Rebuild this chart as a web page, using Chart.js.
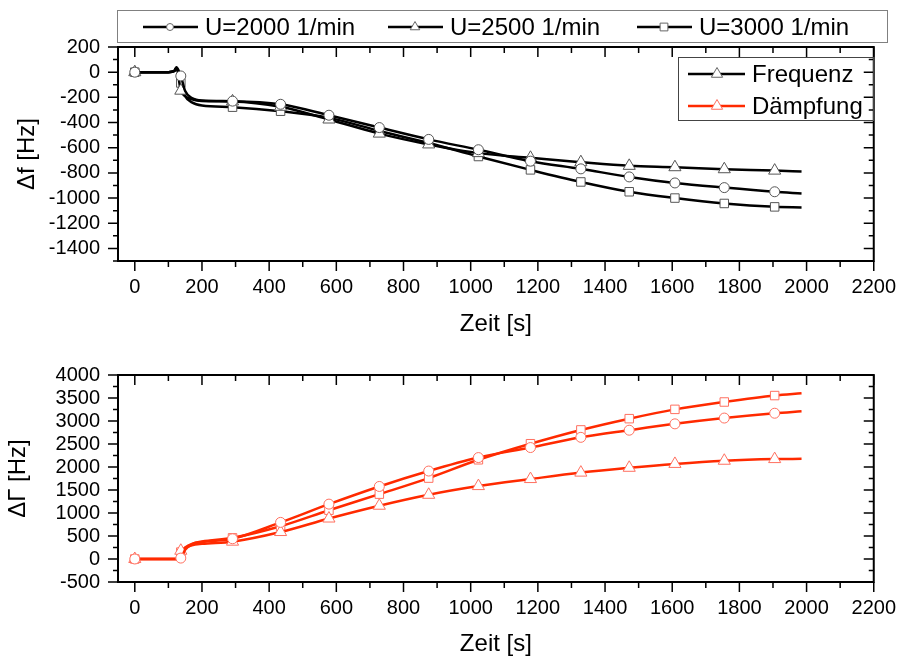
<!DOCTYPE html>
<html>
<head>
<meta charset="utf-8">
<script src="https://cdn.jsdelivr.net/npm/chart.js@4.4.0/dist/chart.umd.min.js"></script>
<style>
  body { margin: 0; background: #fff; }
  #wrap { position: relative; width: 910px; height: 662px; }
  #topBox { position: absolute; left: 0; top: 0; width: 910px; height: 345px; }
  #botBox { position: absolute; left: 0; top: 345px; width: 910px; height: 317px; }
</style>
</head>
<body>
<div id="wrap">
  <div id="topBox"><canvas id="freqChart"></canvas></div>
  <div id="botBox"><canvas id="dampChart"></canvas></div>
</div>
<script>
// time axis [s] and the times where symbols are drawn
const zeit = [0, 100, 118, 124, 137, 150, 170, 200, 291, 434, 578, 728, 875, 1023, 1178, 1328, 1472, 1608, 1755, 1905, 1985];
const markerZeit = [0, 137, 291, 434, 578, 728, 875, 1023, 1178, 1328, 1472, 1608, 1755, 1905];

// frequency shift [Hz]
const freq2000 = [0, 0, 10, 40, -30, -150, -205, -225, -230, -255, -342, -440, -534, -616, -707, -768, -832, -880, -917, -950, -963];
const freq2500 = [0, 0, 10, 35, -147, -190, -215, -228, -232, -275, -376, -488, -574, -643, -680, -715, -744, -755, -771, -782, -790];
const freq3000 = [0, 0, 10, 35, -86, -190, -240, -265, -278, -310, -363, -467, -563, -670, -776, -872, -950, -1000, -1043, -1070, -1075];

// damping shift [Hz]
const damp2000 = [0, 0, 0, 0, 20, 200, 320, 370, 440, 796, 1193, 1577, 1912, 2205, 2423, 2645, 2800, 2938, 3064, 3169, 3211];
const damp2500 = [0, 0, 0, 0, 180, 240, 300, 330, 377, 586, 880, 1158, 1396, 1585, 1738, 1878, 1983, 2067, 2136, 2172, 2178];
const damp3000 = [0, 0, 0, 0, 150, 250, 330, 380, 460, 712, 1061, 1410, 1759, 2157, 2506, 2806, 3051, 3253, 3413, 3553, 3602];

// x tick positions (labels every 200, minor ticks in between)
const zeitTicks = [0, 100, 200, 300, 400, 500, 600, 700, 800, 900, 1000, 1100, 1200, 1300, 1400, 1500, 1600, 1700, 1800, 1900, 2000, 2100, 2200];

const serienNamen = ['U=2000 1/min', 'U=2500 1/min', 'U=3000 1/min'];
const artNamen = ['Frequenz', 'Dämpfung'];

const FONT = 'Arial, "Liberation Sans", sans-serif';
const RED = '#ff2a00';
const shapes = ['circle', 'triangle', 'rect'];
const radii = [5, 7, 6];

function toPoints(vals) {
  return zeit.map((t, i) => ({ x: t, y: vals[i] }));
}

function makeSet(vals, idx, lineColor, markColor) {
  return {
    label: serienNamen[idx],
    data: toPoints(vals),
    borderColor: lineColor,
    borderWidth: 2.5,
    cubicInterpolationMode: 'monotone',
    pointStyle: shapes[idx],
    pointBackgroundColor: '#fff',
    pointBorderColor: markColor,
    pointBorderWidth: 1,
    pointRadius: c => markerZeit.includes(zeit[c.dataIndex]) ? radii[idx] : 0,
    pointHoverRadius: 0
  };
}

function drawMarker(ctx, shape, x, y, r, stroke) {
  ctx.beginPath();
  if (shape === 'circle') {
    ctx.arc(x, y, r, 0, Math.PI * 2);
  } else if (shape === 'triangle') {
    ctx.moveTo(x, y - r);
    ctx.lineTo(x + r * 0.866, y + r * 0.5);
    ctx.lineTo(x - r * 0.866, y + r * 0.5);
    ctx.closePath();
  } else {
    const s = r * 0.707;
    ctx.rect(x - s, y - s, 2 * s, 2 * s);
  }
  ctx.fillStyle = '#fff';
  ctx.fill();
  ctx.strokeStyle = stroke;
  ctx.lineWidth = 1;
  ctx.stroke();
}

// full frame plus major/minor ticks on all four sides
const frameTicks = {
  id: 'frameTicks',
  afterDraw(chart, args, opts) {
    const { ctx, chartArea: a, scales } = chart;
    ctx.save();
    ctx.strokeStyle = '#000';
    ctx.lineWidth = 1.5;
    ctx.beginPath();
    scales.x.ticks.forEach(t => {
      const px = scales.x.getPixelForValue(t.value);
      const len = t.value % 200 === 0 ? 10 : 6;
      ctx.moveTo(px, a.bottom); ctx.lineTo(px, a.bottom + len);
      ctx.moveTo(px, a.top); ctx.lineTo(px, a.top + len);
    });
    scales.y.ticks.forEach(t => {
      const py = scales.y.getPixelForValue(t.value);
      const len = t.value % opts.yMajor === 0 ? 10 : 5;
      ctx.moveTo(a.left, py); ctx.lineTo(a.left - len, py);
      ctx.moveTo(a.right, py); ctx.lineTo(a.right - len, py);
    });
    ctx.stroke();
    ctx.lineWidth = 2;
    ctx.strokeRect(a.left, a.top, a.right - a.left, a.bottom - a.top);
    ctx.restore();
  }
};

// legends of the upper panel (series row on top, Frequenz/Dämpfung box inside)
const legends = {
  id: 'legends',
  afterDraw(chart) {
    const ctx = chart.ctx;
    ctx.save();
    // top row
    ctx.strokeStyle = '#808080';
    ctx.lineWidth = 1;
    ctx.strokeRect(117.5, 10.5, 770, 32);
    const starts = [143, 388, 637];
    ctx.font = '24px ' + FONT;
    ctx.textBaseline = 'middle';
    ctx.textAlign = 'left';
    starts.forEach((lx, i) => {
      ctx.strokeStyle = '#000';
      ctx.lineWidth = 2.5;
      ctx.beginPath();
      ctx.moveTo(lx, 27); ctx.lineTo(lx + 55, 27);
      ctx.stroke();
      drawMarker(ctx, shapes[i], lx + 27, 27, i === 0 ? 3.5 : 5.5, '#666');
      ctx.fillStyle = '#000';
      ctx.fillText(serienNamen[i], lx + 62, 28);
    });
    // inner box
    ctx.strokeStyle = '#444';
    ctx.lineWidth = 1;
    ctx.strokeRect(678.5, 57.5, 195, 63);
    ctx.font = '24px ' + FONT;
    [[74, '#000', '#666'], [106, RED, '#ff7060']].forEach((row, i) => {
      ctx.strokeStyle = row[1];
      ctx.lineWidth = 2.5;
      ctx.beginPath();
      ctx.moveTo(688, row[0]); ctx.lineTo(745, row[0]);
      ctx.stroke();
      drawMarker(ctx, 'triangle', 717, row[0], 6.5, row[2]);
      ctx.fillStyle = '#000';
      ctx.fillText(artNamen[i], 752, row[0] + 1);
    });
    ctx.restore();
  }
};

function axisOptions(yMin, yMax, yStep, yMajor, yTitle, yTitlePad, xTitlePad, xHeight) {
  return {
    x: {
      type: 'linear',
      min: -50,
      max: 2200,
      afterFit: s => { s.height = xHeight; },
      afterBuildTicks: s => { s.ticks = zeitTicks.map(v => ({ value: v })); },
      grid: { display: false, drawTicks: false },
      border: { display: false },
      ticks: {
        autoSkip: false,
        maxRotation: 0,
        minRotation: 0,
        padding: 14,
        color: '#000',
        font: { family: FONT, size: 20 },
        callback: v => (v % 200 === 0) ? String(v) : ''
      },
      title: {
        display: true,
        text: 'Zeit [s]',
        color: '#000',
        font: { family: FONT, size: 24 },
        padding: { top: 0, bottom: xTitlePad }
      }
    },
    y: {
      min: yMin,
      max: yMax,
      afterFit: s => { s.width = 118; },
      grid: { display: false, drawTicks: false },
      border: { display: false },
      ticks: {
        stepSize: yStep,
        autoSkip: false,
        padding: 18,
        color: '#000',
        font: { family: FONT, size: 20 },
        callback: v => (v % yMajor === 0) ? String(v) : ''
      },
      title: {
        display: true,
        text: yTitle,
        color: '#000',
        font: { family: FONT, size: 24 },
        padding: { top: yTitlePad, bottom: 0 }
      }
    }
  };
}

const freqChart = new Chart(document.getElementById('freqChart').getContext('2d'), {
  type: 'line',
  data: {
    datasets: [
      makeSet(freq2000, 0, '#000', '#555'),
      makeSet(freq2500, 1, '#000', '#555'),
      makeSet(freq3000, 2, '#000', '#555')
    ]
  },
  options: {
    responsive: true,
    maintainAspectRatio: false,
    animation: false,
    devicePixelRatio: 1,
    layout: { padding: { left: 0, right: 25, top: 47, bottom: 0 } },
    plugins: {
      legend: { display: false },
      tooltip: { enabled: false },
      frameTicks: { yMajor: 200 }
    },
    scales: axisOptions(-1500, 200, 100, 200, '\u0394f [Hz]', 13, 6, 84)
  },
  plugins: [frameTicks, legends]
});

const dampChart = new Chart(document.getElementById('dampChart').getContext('2d'), {
  type: 'line',
  data: {
    datasets: [
      makeSet(damp2000, 0, RED, '#ff7060'),
      makeSet(damp2500, 1, RED, '#ff7060'),
      makeSet(damp3000, 2, RED, '#ff7060')
    ]
  },
  options: {
    responsive: true,
    maintainAspectRatio: false,
    animation: false,
    devicePixelRatio: 1,
    layout: { padding: { left: 0, right: 25, top: 22, bottom: 0 } },
    plugins: {
      legend: { display: false },
      tooltip: { enabled: false },
      frameTicks: { yMajor: 500 }
    },
    scales: axisOptions(-500, 4000, 250, 500, '\u0394\u0393 [Hz]', 4, 3, 80)
  },
  plugins: [frameTicks]
});
</script>
</body>
</html>
